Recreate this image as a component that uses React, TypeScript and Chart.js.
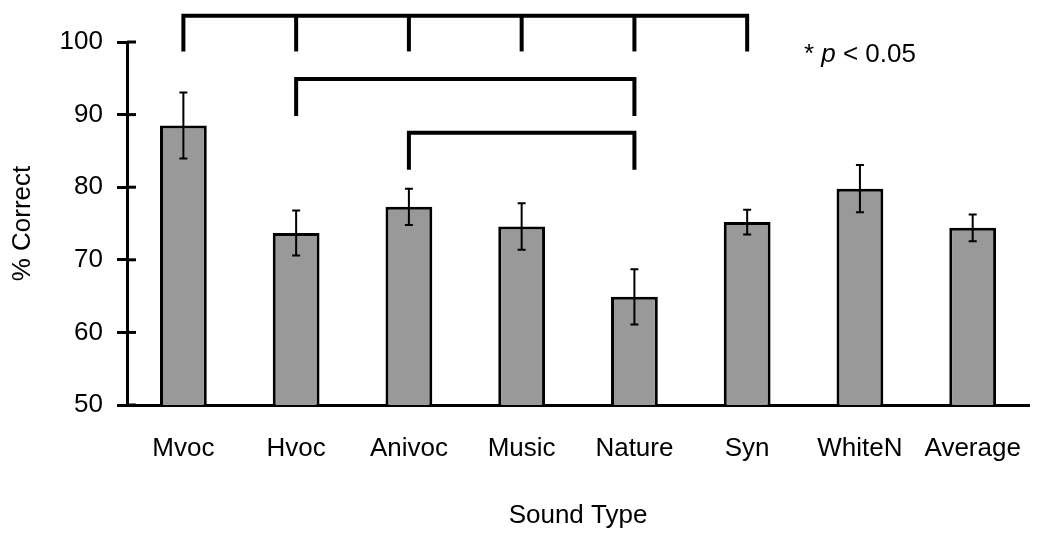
import React, { useEffect, useRef } from "react";
import { Chart, registerables } from "chart.js";

Chart.register(...registerables);

const categories = ["Mvoc", "Hvoc", "Anivoc", "Music", "Nature", "Syn", "WhiteN", "Average"];
const percentCorrect = [88.5, 73.7, 77.3, 74.6, 64.9, 75.2, 79.8, 74.4];
const errorSE = [4.55, 3.1, 2.5, 3.2, 3.8, 1.7, 3.26, 1.85];
const yTicks = [50, 60, 70, 80, 90, 100];

// significance brackets (category indices, levels in % Correct units)
const bracketSpans = [[0, 5], [1, 4], [2, 4]];
const bracketDrops = [[0, 1, 2, 3, 4, 5], [1, 4], [2, 4]];
const bracketLevels = [103.6, 94.9, 87.5];
const bracketDropEnds = [98.7, 89.8, 82.4];
const noteParts = ["* ", "p", " < 0.05"];
const noteAnchor = { category: 6, value: 98.2 };

const FONT = "Arial, 'Liberation Sans', sans-serif";

const annotationPlugin = {
  id: "annotationPlugin",
  afterDatasetsDraw(chart: any) {
    const { ctx, chartArea } = chart;
    const x = chart.scales.x;
    const y = chart.scales.y;
    ctx.save();
    ctx.strokeStyle = "#000";
    ctx.lineCap = "butt";

    // inner half of y tick marks
    ctx.lineWidth = 3;
    for (const t of yTicks) {
      const py = y.getPixelForValue(t);
      ctx.beginPath();
      ctx.moveTo(chartArea.left, py);
      ctx.lineTo(chartArea.left + 9, py);
      ctx.stroke();
    }

    // error bars
    ctx.lineWidth = 2;
    percentCorrect.forEach((v, i) => {
      const px = x.getPixelForValue(i);
      const top = y.getPixelForValue(v + errorSE[i]);
      const bot = y.getPixelForValue(v - errorSE[i]);
      ctx.beginPath();
      ctx.moveTo(px, top);
      ctx.lineTo(px, bot);
      ctx.moveTo(px - 4, top);
      ctx.lineTo(px + 4, top);
      ctx.moveTo(px - 4, bot);
      ctx.lineTo(px + 4, bot);
      ctx.stroke();
    });

    // brackets
    ctx.lineWidth = 4;
    ctx.lineJoin = "miter";
    bracketSpans.forEach(([a, b], k) => {
      const yl = y.getPixelForValue(bracketLevels[k]);
      const yd = y.getPixelForValue(bracketDropEnds[k]);
      const xa = x.getPixelForValue(a);
      const xb = x.getPixelForValue(b);
      ctx.beginPath();
      ctx.moveTo(xa, yd);
      ctx.lineTo(xa, yl);
      ctx.lineTo(xb, yl);
      ctx.lineTo(xb, yd);
      ctx.stroke();
      bracketDrops[k].forEach((i) => {
        if (i !== a && i !== b) {
          const xi = x.getPixelForValue(i);
          ctx.beginPath();
          ctx.moveTo(xi, yl);
          ctx.lineTo(xi, yd);
          ctx.stroke();
        }
      });
    });

    // significance note
    const fonts = [`26px ${FONT}`, `italic 26px ${FONT}`, `26px ${FONT}`];
    let total = 0;
    const widths = noteParts.map((p, i) => {
      ctx.font = fonts[i];
      const w = ctx.measureText(p).width;
      total += w;
      return w;
    });
    let cx = x.getPixelForValue(noteAnchor.category) - total / 2;
    const cy = y.getPixelForValue(noteAnchor.value);
    ctx.fillStyle = "#000";
    ctx.textBaseline = "middle";
    ctx.textAlign = "left";
    noteParts.forEach((p, i) => {
      ctx.font = fonts[i];
      ctx.fillText(p, cx, cy);
      cx += widths[i];
    });
    ctx.restore();
  },
};

export default function App() {
  const canvasRef = useRef<HTMLCanvasElement | null>(null);

  useEffect(() => {
    if (!canvasRef.current) return;
    const chart = new Chart(canvasRef.current, {
      type: "bar",
      data: {
        labels: categories,
        datasets: [
          {
            label: "% Correct",
            data: percentCorrect,
            backgroundColor: "#999999",
            borderColor: "#000000",
            borderWidth: 3,
            barPercentage: 0.415,
            categoryPercentage: 1,
          },
        ],
      },
      options: {
        animation: false,
        responsive: true,
        maintainAspectRatio: false,
        layout: { padding: { top: 42, right: 18, left: 0, bottom: 0 } },
        plugins: {
          legend: { display: false },
          tooltip: { enabled: false },
        },
        scales: {
          x: {
            grid: { display: false, drawTicks: false },
            border: { display: true, color: "#000", width: 3 },
            ticks: {
              color: "#000",
              padding: 28,
              font: { family: FONT, size: 26 },
            },
            title: {
              display: true,
              text: "Sound Type",
              color: "#000",
              font: { family: FONT, size: 26 },
              padding: { top: 0, bottom: 8 },
            },
            afterFit: (scale: any) => {
              scale.height = 134;
            },
          },
          y: {
            min: 50,
            max: 100,
            ticks: {
              stepSize: 10,
              color: "#000",
              padding: 14,
              font: { family: FONT, size: 26 },
            },
            grid: {
              display: true,
              drawOnChartArea: false,
              drawTicks: true,
              tickLength: 10,
              tickWidth: 3,
              tickColor: "#000",
            },
            border: { display: true, color: "#000", width: 3 },
            title: {
              display: true,
              text: "% Correct",
              color: "#000",
              font: { family: FONT, size: 26 },
              padding: { top: 7, bottom: 0 },
            },
            afterFit: (scale: any) => {
              scale.width = 127;
            },
          },
        },
      },
      plugins: [annotationPlugin],
    });
    return () => chart.destroy();
  }, []);

  return (
    <div style={{ position: "fixed", left: 0, top: 0, width: 1050, height: 539, background: "#fff" }}>
      <canvas ref={canvasRef} />
    </div>
  );
}
